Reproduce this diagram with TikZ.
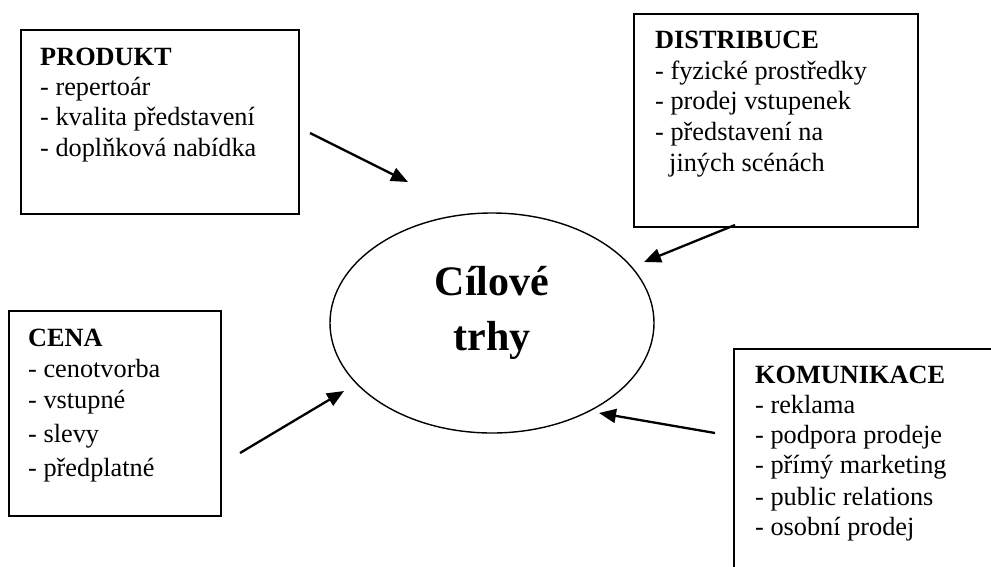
\documentclass[tikz,border=0pt]{standalone}
\usepackage{fontspec}
\setmainfont{Liberation Serif}
\usetikzlibrary{shapes.geometric,arrows.meta}
\newcommand\bodyfnt{\fontsize{26.3}{31}\selectfont}
\newcommand\titlefnt{\fontsize{42}{55}\selectfont\bfseries}
\begin{document}
\begin{tikzpicture}[x=1pt,y=-1pt,
  box/.style={draw, line width=1.6pt, rectangle, anchor=north west, inner sep=0pt},
  txt/.style={anchor=base west, inner sep=0pt, font=\bodyfnt},
  head/.style={anchor=base west, inner sep=0pt, font=\bodyfnt\bfseries},
  ttl/.style={anchor=base, inner sep=0pt, font=\titlefnt},
  arr/.style={line width=2.3pt, -{Triangle[length=17pt,width=14pt]}}]
\useasboundingbox (0,0) rectangle (991,566);
\clip (0,0) rectangle (991,566);
\fill[white] (0,0) rectangle (991,566);

% boxes
\node[box, minimum width=278pt, minimum height=184pt] (produkt) at (20,29) {};
\node[box, minimum width=284pt, minimum height=213pt] (distr) at (633,13) {};
\node[box, minimum width=212pt, minimum height=205pt] (cena) at (8,310) {};
\node[box, minimum width=300pt, minimum height=260pt] (komu) at (733,348) {};

% ellipse
\node[draw, ellipse, line width=1.4pt, minimum width=324pt, minimum height=220pt, inner sep=0pt] (cil) at (492,323) {};
\node[ttl] (c1) at (492,295) {Cílové};
\node[ttl] (c2) at (492,350) {trhy};

% PRODUKT
\node[head] (p0) at (40,65) {PRODUKT};
\node[txt] (p1) at (40,95) {- repertoár};
\node[txt] (p2) at (40,125.5) {- kvalita představení};
\node[txt] (p3) at (40,156) {- doplňková nabídka};

% DISTRIBUCE
\node[head] (d0) at (655,48) {DISTRIBUCE};
\node[txt] (d1) at (655,79) {- fyzické prostředky};
\node[txt] (d2) at (655,109.5) {- prodej vstupenek};
\node[txt] (d3) at (655,140) {- představení na};
\node[txt] (d4) at (669,171) {jiných scénách};

% CENA
\node[head] (e0) at (28,346) {CENA};
\node[txt] (e1) at (28,377) {- cenotvorba};
\node[txt] (e2) at (28,408) {- vstupné};
\node[txt] (e3) at (28,442) {- slevy};
\node[txt] (e4) at (28,476) {- předplatné};

% KOMUNIKACE
\node[head] (k0) at (755,383) {KOMUNIKACE};
\node[txt] (k1) at (755,413) {- reklama};
\node[txt] (k2) at (755,443) {- podpora prodeje};
\node[txt] (k3) at (755,473) {- přímý marketing};
\node[txt] (k4) at (755,505) {- public relations};
\node[txt] (k5) at (755,535) {- osobní prodej};

% arrows
\coordinate (pa) at (310,133); \coordinate (pb) at (408,182);
\coordinate (da) at (735,225); \coordinate (db) at (644,262);
\coordinate (ea) at (240,453); \coordinate (eb) at (344,391);
\coordinate (ka) at (715,433); \coordinate (kb) at (599,413);
\draw[arr] (pa) -- (pb);
\draw[arr] (da) -- (db);
\draw[arr] (ea) -- (eb);
\draw[arr] (ka) -- (kb);
\end{tikzpicture}
\end{document}
